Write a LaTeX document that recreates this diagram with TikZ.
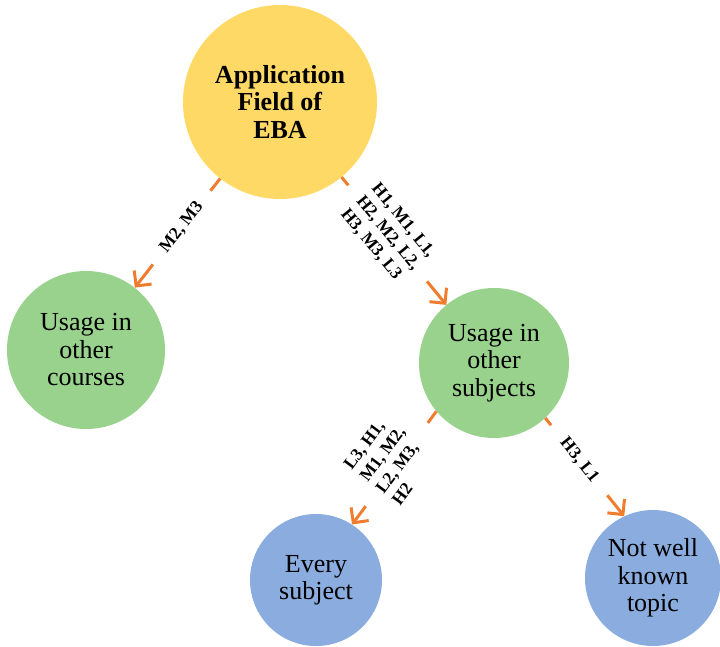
\documentclass[tikz,border=0pt]{standalone}
\usepackage{fontspec}
\setmainfont{Liberation Serif}
\usetikzlibrary{arrows.meta}

\definecolor{fieldgold}{RGB}{255,217,102}
\definecolor{usegreen}{RGB}{152,210,140}
\definecolor{leafblue}{RGB}{138,172,222}
\definecolor{linkorange}{RGB}{240,125,45}

\begin{document}
\begin{tikzpicture}[>={Straight Barb[length=11pt,width=22pt]}, x=1pt, y=-1pt,
    topic/.style={circle, draw=none, align=center, inner sep=0pt,
        font=\fontsize{26}{27.5}\selectfont},
    link/.style={->, draw=linkorange, line width=3pt},
    tag/.style={sloped, fill=white, inner xsep=17pt, inner ysep=0pt, align=left,
        font=\fontsize{17.5}{20}\selectfont\bfseries}]

    \useasboundingbox (0,0) rectangle (720,646);

    % Define the root node (top)
    \node[topic, fill=fieldgold, minimum size=194pt] (field) at (280,102)
        {\textbf{Application}\\\textbf{Field of}\\\textbf{EBA}};

    % Define nodes in the second row
    \node[topic, fill=usegreen, minimum size=158pt] (courses) at (86,350)
        {Usage in\\other\\courses};
    \node[topic, fill=usegreen, minimum size=150pt] (subjects) at (494,363)
        {Usage in\\other\\subjects};

    % Define nodes in the third row
    \node[topic, fill=leafblue, minimum size=132pt] (every) at (316,580)
        {Every\\subject};
    \node[topic, fill=leafblue, minimum size=136pt] (unknown) at (653,578)
        {Not well\\known\\topic};

    % Draw arrows from the root
    \draw[link] (field) -- node[tag, pos=0.45] {M2, M3} (courses);
    \draw[link] (field) -- node[tag, pos=0.44]
        {H1, M1, L1,\\H2, M2, L2,\\H3, M3, L3} (subjects);

    % Draw arrows from the second row
    \draw[link] (subjects.220) -- node[tag, pos=0.47, yshift=8pt, inner xsep=20pt]
        {L3, H1,\\M1, M2,\\L2, M3,\\H2} (every.57);
    \draw[link] (subjects.-47) -- node[tag, pos=0.43, inner xsep=19pt] {H3, L1} (unknown.115);

\end{tikzpicture}
\end{document}
